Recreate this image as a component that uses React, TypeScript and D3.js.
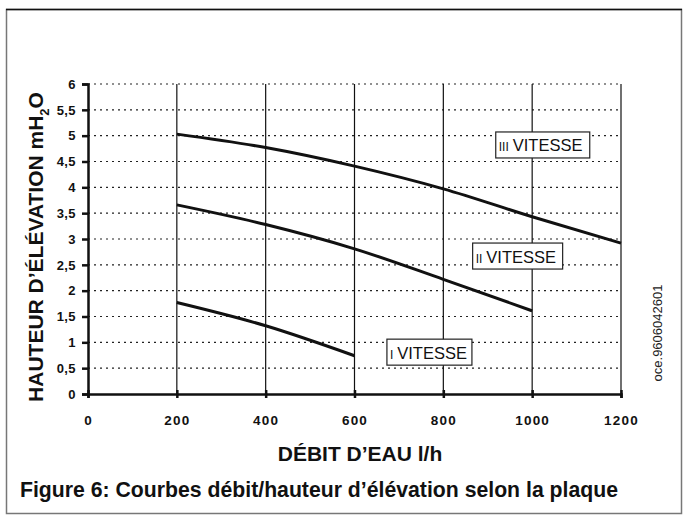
import { useEffect, useRef } from "react";
import * as d3 from "d3";

const W = 683;
const H = 515;
const FONT = "'Liberation Sans', Arial, Helvetica, sans-serif";

const X_TICKS = [0, 200, 400, 600, 800, 1000, 1200];
const Y_TICKS = [0, 0.5, 1, 1.5, 2, 2.5, 3, 3.5, 4, 4.5, 5, 5.5, 6];

// flow l/h -> head mH2O
const SPEED_III = [
  [200, 5.03],
  [400, 4.77],
  [600, 4.41],
  [800, 3.97],
  [1000, 3.43],
  [1200, 2.92],
];
const SPEED_II = [
  [200, 3.66],
  [400, 3.28],
  [600, 2.81],
  [800, 2.22],
  [1000, 1.61],
];
const SPEED_I = [
  [200, 1.77],
  [400, 1.32],
  [600, 0.74],
];

// label boxes: roman numeral, box left (flow) and vertical centre (head)
const LABELS = [
  { roman: "III", x: 918, y: 4.82, w: 94 },
  { roman: "II", x: 866, y: 2.67, w: 90 },
  { roman: "I", x: 673, y: 0.81, w: 85 },
];

function App() {
  const ref = useRef<SVGSVGElement>(null);

  useEffect(() => {
    document.body.style.margin = "0";
    const svg = d3.select(ref.current);
    svg.selectAll("*").remove();

    const x = d3.scaleLinear().domain([0, 1200]).range([88, 621]);
    const y = d3.scaleLinear().domain([0, 6]).range([394, 84]);

    // frame
    svg.append("rect").attr("x", 6.5).attr("y", 9.5).attr("width", 675).attr("height", 504)
      .attr("fill", "white").attr("stroke", "#777").attr("stroke-width", 1.5);
    svg.append("line").attr("x1", 6).attr("x2", 682).attr("y1", 9.5).attr("y2", 9.5)
      .attr("stroke", "#111").attr("stroke-width", 1.5);

    // dotted horizontal grid
    svg.append("g").selectAll("line").data(Y_TICKS.slice(1)).join("line")
      .attr("x1", x(0)).attr("x2", x(1200))
      .attr("y1", (d) => y(d)).attr("y2", (d) => y(d))
      .attr("stroke", "#222").attr("stroke-width", 1.2)
      .attr("stroke-dasharray", "2,4");

    // vertical grid
    svg.append("g").selectAll("line").data(X_TICKS.slice(1)).join("line")
      .attr("x1", (d) => x(d)).attr("x2", (d) => x(d))
      .attr("y1", y(6)).attr("y2", y(0))
      .attr("stroke", "#111").attr("stroke-width", 1.2);

    // axes
    const yAxis = d3.axisLeft(y).tickValues(Y_TICKS).tickSize(6).tickPadding(5)
      .tickFormat((d) => String(d).replace(".", ","));
    const gy = svg.append("g").attr("transform", `translate(${x(0)},0)`).call(yAxis);
    gy.select(".domain").attr("stroke", "#111").attr("stroke-width", 2.5);
    gy.selectAll(".tick line").attr("stroke", "#111").attr("stroke-width", 2.5).attr("x2", 0).attr("x1", -6);
    gy.selectAll(".tick text").attr("font-family", FONT).attr("font-size", 13)
      .attr("font-weight", "bold").attr("letter-spacing", 0.4).attr("fill", "#111").attr("x", -12);

    const xAxis = d3.axisBottom(x).tickValues(X_TICKS).tickSize(4).tickPadding(17)
      .tickFormat((d) => String(d));
    const gx = svg.append("g").attr("transform", `translate(0,${y(0)})`).call(xAxis);
    gx.select(".domain").attr("stroke", "#111").attr("stroke-width", 2.5);
    gx.selectAll(".tick line").attr("stroke", "#111").attr("stroke-width", 2.5).attr("y1", -4).attr("y2", 4);
    gx.selectAll(".tick text").attr("font-family", FONT).attr("font-size", 13.5)
      .attr("font-weight", "bold").attr("letter-spacing", 1.2).attr("fill", "#111");
    svg.selectAll(".domain").attr("fill", "none");

    // curves
    const line = d3.line<number[]>()
      .x((d) => x(d[0]))
      .y((d) => y(d[1]))
      .curve(d3.curveMonotoneX);
    [SPEED_III, SPEED_II, SPEED_I].forEach((s) => {
      svg.append("path").datum(s).attr("d", line)
        .attr("fill", "none").attr("stroke", "#111").attr("stroke-width", 3);
    });

    // speed labels
    LABELS.forEach((l) => {
      const g = svg.append("g").attr("transform", `translate(${x(l.x)},${y(l.y)})`);
      g.append("rect").attr("x", 0).attr("y", -13).attr("width", l.w).attr("height", 26)
        .attr("fill", "white").attr("stroke", "#222").attr("stroke-width", 1.2);
      const t = g.append("text").attr("x", 3).attr("y", 6.5).attr("font-family", FONT).attr("fill", "#111");
      t.append("tspan").attr("font-size", 12).text(l.roman);
      t.append("tspan").attr("font-size", 16.5).attr("dx", 4).text("VITESSE");
    });

    // y title
    const yt = svg.append("text")
      .attr("transform", `translate(43,247) rotate(-90)`)
      .attr("text-anchor", "middle").attr("font-family", FONT)
      .attr("font-size", 21).attr("font-weight", "bold").attr("fill", "#111");
    yt.append("tspan").text("HAUTEUR D\u2019ÉLÉVATION mH");
    yt.append("tspan").attr("font-size", 13).attr("dy", 6).text("2");
    yt.append("tspan").attr("dy", -6).text("O");

    // x title
    svg.append("text").attr("x", 360).attr("y", 461).attr("text-anchor", "middle")
      .attr("font-family", FONT).attr("font-size", 21).attr("font-weight", "bold")
      .attr("fill", "#111").text("DÉBIT D\u2019EAU l/h");

    // caption
    svg.append("text").attr("x", 20).attr("y", 497)
      .attr("font-family", FONT).attr("font-size", 22.5).attr("font-weight", "bold")
      .attr("textLength", 598).attr("lengthAdjust", "spacingAndGlyphs")
      .attr("fill", "#111").text("Figure 6: Courbes débit/hauteur d\u2019élévation selon la plaque");

    // side code
    svg.append("text").attr("transform", `translate(662,333) rotate(-90)`)
      .attr("text-anchor", "middle").attr("font-family", FONT).attr("font-size", 13)
      .attr("fill", "#222").text("oce.9606042601");
  }, []);

  return <svg ref={ref} width={W} height={H} style={{ display: "block" }} />;
}

export default App;
